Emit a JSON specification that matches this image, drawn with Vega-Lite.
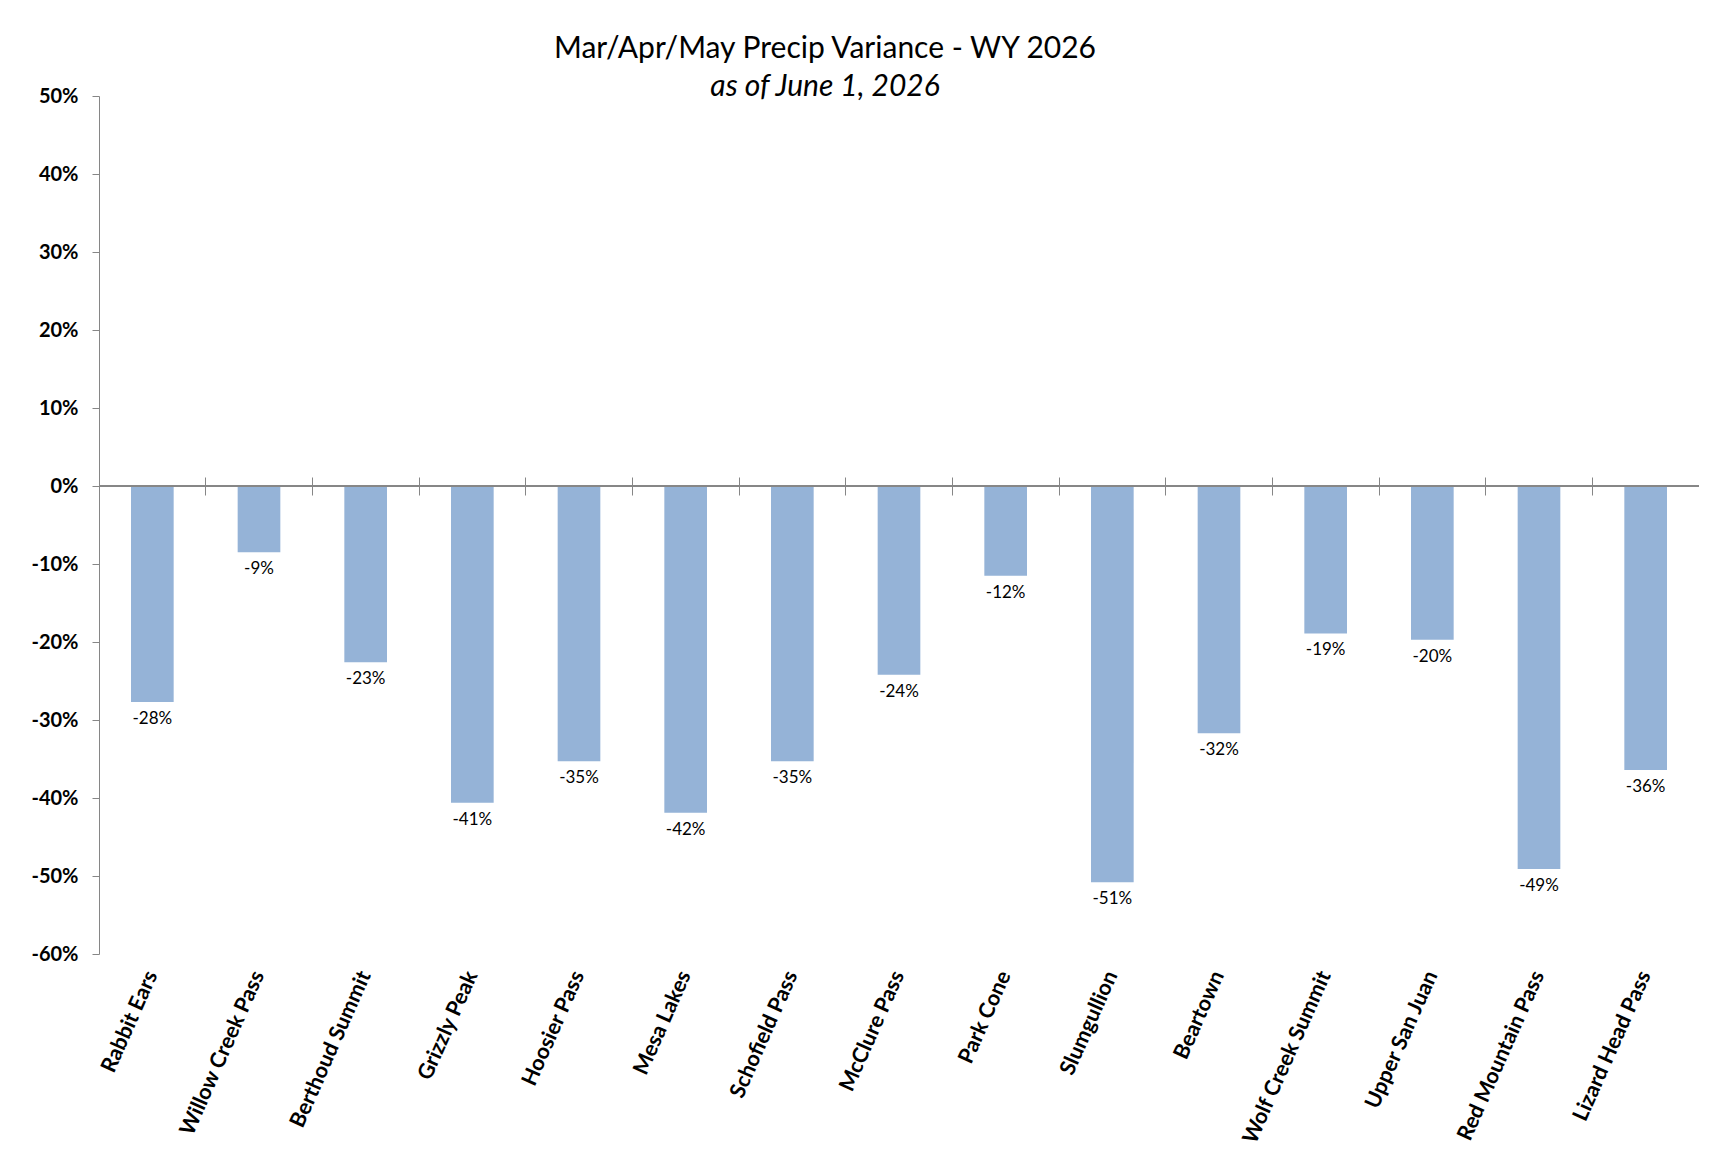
{
  "$schema": "https://vega.github.io/schema/vega-lite/v6.json",
  "autosize": "none",
  "width": 1600,
  "height": 858,
  "padding": {"left": 99, "top": 96, "right": 22, "bottom": 207},
  "background": "white",
  "title": {
    "text": "Mar/Apr/May Precip Variance - WY 2026",
    "subtitle": "as of June 1, 2026",
    "anchor": "middle",
    "dx": -74,
    "offset": -16,
    "font": "Lato",
    "fontSize": 30,
    "fontWeight": "normal",
    "color": "black",
    "subtitleFont": "Lato",
    "subtitleFontSize": 30,
    "subtitleFontStyle": "italic",
    "subtitleColor": "black",
    "subtitlePadding": 8
  },
  "data": {
    "values": [
      {"site": "Rabbit Ears", "variance": -0.277},
      {"site": "Willow Creek Pass", "variance": -0.085},
      {"site": "Berthoud Summit", "variance": -0.226},
      {"site": "Grizzly Peak", "variance": -0.406},
      {"site": "Hoosier Pass", "variance": -0.353},
      {"site": "Mesa Lakes", "variance": -0.419},
      {"site": "Schofield Pass", "variance": -0.353},
      {"site": "McClure Pass", "variance": -0.242},
      {"site": "Park Cone", "variance": -0.115},
      {"site": "Slumgullion", "variance": -0.508},
      {"site": "Beartown", "variance": -0.317},
      {"site": "Wolf Creek Summit", "variance": -0.189},
      {"site": "Upper San Juan", "variance": -0.197},
      {"site": "Red Mountain Pass", "variance": -0.491},
      {"site": "Lizard Head Pass", "variance": -0.364}
    ]
  },
  "resolve": {"axis": {"x": "independent"}},
  "layer": [
    {
      "mark": {"type": "bar", "color": "#95B3D7"},
      "encoding": {
        "x": {
          "field": "site",
          "type": "nominal",
          "sort": null,
          "scale": {"paddingInner": 0.6, "paddingOuter": 0.3},
          "axis": {
            "orient": "bottom",
            "title": null,
            "domain": false,
            "ticks": false,
            "labelAngle": -66,
            "labelPadding": 18,
            "labelLimit": 400,
            "labelFont": "Lato",
            "labelFontSize": 21.5,
            "labelFontWeight": "bold",
            "labelColor": "black"
          }
        },
        "y": {
          "field": "variance",
          "type": "quantitative",
          "scale": {"domain": [-0.6, 0.5], "nice": false, "zero": false},
          "axis": {
            "title": null,
            "format": ".0%",
            "values": [-0.6, -0.5, -0.4, -0.3, -0.2, -0.1, 0, 0.1, 0.2, 0.3, 0.4, 0.5],
            "grid": false,
            "domainColor": "#868686",
            "tickColor": "#868686",
            "tickSize": 7,
            "labelPadding": 14,
            "labelFont": "Lato",
            "labelFontSize": 20,
            "labelFontWeight": "bold",
            "labelColor": "black"
          }
        }
      }
    },
    {
      "mark": {"type": "rule", "color": "#868686", "strokeWidth": 1},
      "encoding": {"y": {"datum": 0}}
    },
    {
      "mark": {
        "type": "text",
        "baseline": "top",
        "dy": 9,
        "font": "Lato",
        "fontSize": 17,
        "color": "black"
      },
      "encoding": {
        "x": {
          "field": "site",
          "type": "nominal",
          "sort": null,
          "axis": {
            "orient": "bottom",
            "title": null,
            "domain": false,
            "labels": false,
            "ticks": true,
            "bandPosition": -0.75,
            "tickSize": 18,
            "tickColor": "#868686",
            "offset": -477
          }
        },
        "y": {"field": "variance", "type": "quantitative"},
        "text": {"field": "variance", "type": "quantitative", "format": ".0%"}
      }
    }
  ],
  "config": {
    "view": {"stroke": null},
    "locale": {
      "number": {
        "decimal": ".",
        "thousands": ",",
        "grouping": [3],
        "currency": ["$", ""],
        "minus": "-"
      }
    }
  }
}
